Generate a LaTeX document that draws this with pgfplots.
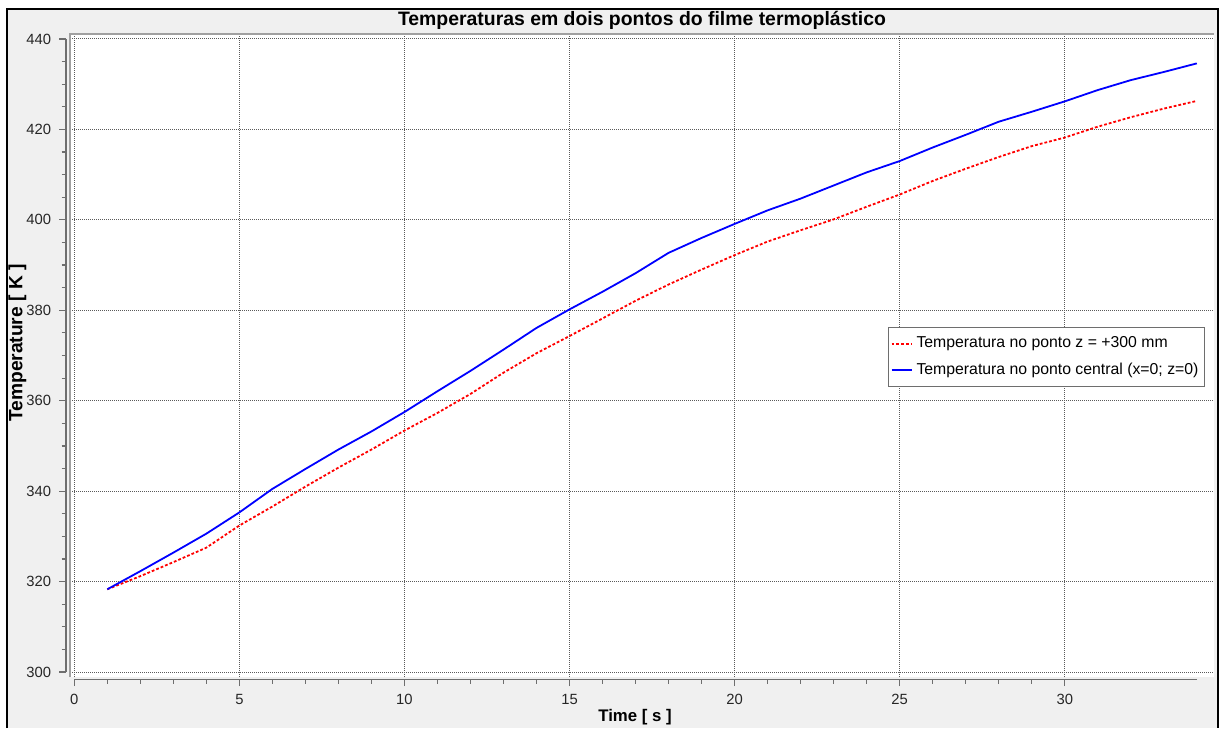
\documentclass[border=0pt]{standalone}
\usepackage{pgfplots}
\pgfplotsset{compat=1.18}
\usepackage{pgfplotstable}
\usepackage{fontspec}
\setmainfont{Liberation Sans}

\definecolor{panelgray}{RGB}{240,240,240}
\definecolor{axisgray}{RGB}{110,110,110}
\definecolor{gridgray}{RGB}{90,90,90}
\definecolor{framegray}{RGB}{160,160,160}

% Temperature [K] against time [s]
\pgfplotstableread{
t    T
1    318.3
2    321.2
3    324.3
4    327.5
5    332.4
6    336.6
7    341.0
8    345.2
9    349.2
10   353.4
11   357.3
12   361.5
13   366.2
14   370.5
15   374.3
16   378.2
17   382.1
18   385.7
19   389.0
20   392.2
21   395.2
22   397.7
23   400.1
24   402.9
25   405.6
26   408.6
27   411.3
28   413.9
29   416.3
30   418.2
31   420.6
32   422.7
33   424.6
34   426.3
}\pontoz

\pgfplotstableread{
t    T
1    318.3
2    322.3
3    326.4
4    330.6
5    335.3
6    340.5
7    344.9
8    349.2
9    353.2
10   357.5
11   362.1
12   366.6
13   371.3
14   376.1
15   380.2
16   384.1
17   388.2
18   392.7
19   396.0
20   399.1
21   402.1
22   404.7
23   407.6
24   410.5
25   413.0
26   416.0
27   418.8
28   421.7
29   423.9
30   426.2
31   428.7
32   430.9
33   432.7
34   434.6
}\pontocentral

\begin{document}
\begin{tikzpicture}
% panel
\fill[white] (0pt,0pt) rectangle (610pt,364pt);
\useasboundingbox (0pt,0pt) rectangle (610pt,364pt);
\fill[panelgray] (3.5pt,0pt) rectangle (609pt,359.5pt);
\draw[black, line width=1pt] (3.5pt,0pt) -- (3.5pt,359.5pt) -- (609pt,359.5pt) -- (609pt,0pt);

\begin{axis}[
  at={(35pt,25.5pt)}, anchor=south west,
  scale only axis, width=572pt, height=321.5pt,
  xmin=-0.13, xmax=34.52, ymin=298.9, ymax=441.1,
  axis background/.style={fill=white},
  axis x line*=bottom, axis y line*=left,
  axis x line shift=1.25pt, axis y line shift=2.15pt,
  axis line style={draw=none},
  xtick={0,5,...,30}, minor x tick num=4,
  ytick={300,320,...,440}, minor y tick num=3,
  tick align=outside,
  major tick length=3.3pt, minor tick length=2pt,
  every tick/.style={axisgray, line width=0.6pt},
  grid=major,
  major grid style={gridgray, line width=0.5pt, dash pattern=on 0.5pt off 0.5pt},
  /pgf/number format/assume math mode=true,
  ticklabel style={font=\fontsize{7.4pt}{8.5pt}\selectfont, text=black!85},
  xticklabel style={yshift=-0.5pt},
  yticklabel style={xshift=-0.5pt},
  legend style={at={(0.992,0.544)}, anchor=north east, draw=axisgray, fill=white,
    font=\fontsize{7.9pt}{9pt}\selectfont, inner xsep=1pt, inner ysep=2.5pt,
    row sep=2pt, cells={anchor=west}},
  clip=false,
]
\addlegendimage{legend image code/.code={%
  \draw[red, line width=0.9pt, dash pattern=on 1.4pt off 1pt] (0pt,0pt) -- (10pt,0pt);}}
\addlegendentry{Temperatura no ponto z = +300 mm}
\addlegendimage{legend image code/.code={%
  \draw[blue, line width=0.9pt] (0pt,0pt) -- (10pt,0pt);}}
\addlegendentry{Temperatura no ponto central (x=0; z=0)}
\addplot[red, line width=0.9pt, dash pattern=on 1.4pt off 1pt, forget plot] table[x=t, y=T] {\pontoz};
\addplot[blue, line width=0.9pt, forget plot] table[x=t, y=T] {\pontocentral};
% axis lines and plot frame
\draw[axisgray, line width=0.8pt] ([yshift=-1.25pt]axis cs:0,298.9) -- ([yshift=-1.25pt]axis cs:34,298.9);
\draw[axisgray, line width=0.8pt] ([xshift=-2.15pt]axis cs:-0.13,300) -- ([xshift=-2.15pt]axis cs:-0.13,440);
\draw[framegray, line width=1pt] (rel axis cs:0,0) -- (rel axis cs:0,1) -- (rel axis cs:1,1);
\end{axis}

\node[font=\fontsize{9.7pt}{11pt}\selectfont\bfseries] at (321pt,354pt) {Temperaturas em dois pontos do filme termoplástico};
\node[font=\fontsize{8.4pt}{10pt}\selectfont\bfseries] at (317.5pt,5.5pt) {Time [ s ]};
\node[font=\fontsize{9.6pt}{11pt}\selectfont\bfseries, rotate=90] at (8.75pt,192.5pt) {Temperature [ K ]};
\end{tikzpicture}
\end{document}
